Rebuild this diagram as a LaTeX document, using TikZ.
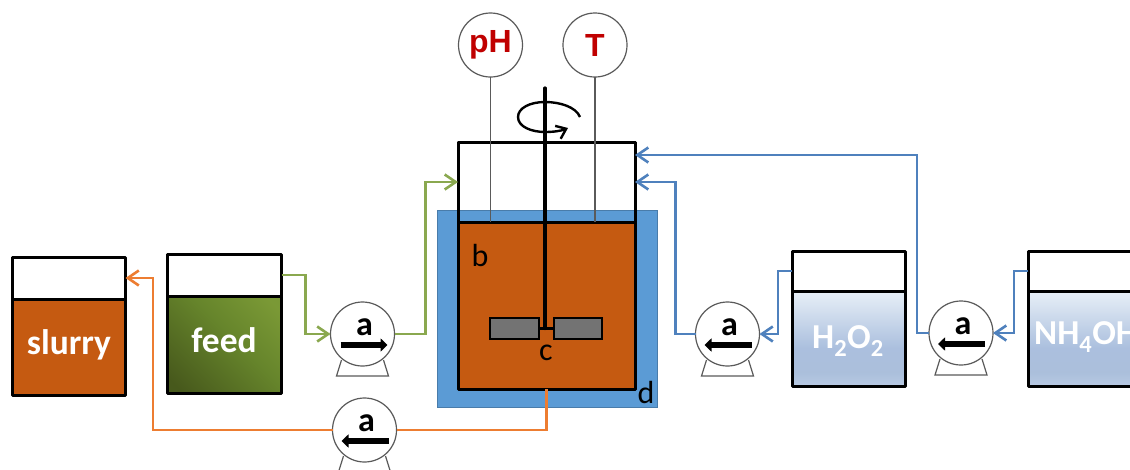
\documentclass[tikz,border=0pt]{standalone}
\usepackage{fontspec}
\setmainfont{Carlito}
\newfontfamily\arialfont{Liberation Sans}
\usetikzlibrary{arrows.meta,calc}
\definecolor{liquid}{HTML}{C55A11}
\definecolor{jacket}{HTML}{5B9BD5}
\definecolor{lineblue}{HTML}{4F81BD}
\definecolor{lineorange}{HTML}{ED7D31}
\definecolor{linegreen}{HTML}{8AA84F}
\definecolor{probered}{HTML}{C00000}
\definecolor{pumpgrey}{HTML}{5A5A5A}
\pgfdeclareverticalshading{bluetank}{100bp}{%
  rgb(0bp)=(0.72,0.79,0.89);
  rgb(25bp)=(0.72,0.79,0.89);
  rgb(32bp)=(0.67,0.75,0.86);
  rgb(45bp)=(0.67,0.75,0.87);
  rgb(75bp)=(0.91,0.94,0.97);
  rgb(100bp)=(0.91,0.94,0.97)}
\pgfdeclarehorizontalshading{feedshade}{100bp}{%
  rgb(0bp)=(0.28,0.35,0.11);
  rgb(20bp)=(0.28,0.35,0.11);
  rgb(55bp)=(0.40,0.52,0.17);
  rgb(80bp)=(0.48,0.60,0.21);
  rgb(100bp)=(0.48,0.60,0.21)}
\tikzset{
  tankbox/.style={draw=black,line width=3pt,inner sep=0pt,outer sep=0pt,minimum width=#1,line join=round},
  pumpcircle/.style={circle,draw=pumpgrey,fill=white,line width=1.2pt,minimum size=64pt,inner sep=0pt,outer sep=0pt},
  probecircle/.style={circle,draw=pumpgrey,fill=white,line width=1.2pt,minimum size=64pt,inner sep=0pt,outer sep=0pt,
    font=\arialfont\bfseries\fontsize{32}{32}\selectfont,text=probered},
  probeline/.style={draw=pumpgrey,line width=1.2pt},
  pumpstand/.style={draw=pumpgrey,line width=1.2pt,fill=white},
  pumplabel/.style={font=\bfseries\fontsize{34}{34}\selectfont,inner sep=0pt},
  pumparrow/.style={line width=5.5pt,-{Triangle[length=7pt,width=13pt]}},
  tanklabel/.style={font=\bfseries\fontsize{35.5}{36}\selectfont,text=white,inner sep=0pt},
  chemlabel/.style={font=\bfseries\fontsize{35}{35}\selectfont,text=white,inner sep=0pt},
  partlabel/.style={font=\fontsize{32}{32}\selectfont,inner sep=0pt},
  flow/.style={line width=2.6pt,-{Straight Barb[length=11pt,width=15pt,line width=2.6pt]}},
  flowplain/.style={line width=2.6pt},
  bladebox/.style={draw=black,line width=1.8pt,fill=gray!90!black,minimum height=21pt,inner sep=0pt,outer sep=0pt},
}
\newcommand{\pumpbase}[1]{\draw[pumpstand] ($(#1)+(-21,26)$) -- ($(#1)+(-26,42)$) -- ($(#1)+(26,42)$) -- ($(#1)+(21,26)$);}
\begin{document}
\begin{tikzpicture}[x=1pt,y=-1pt]
\useasboundingbox (0,0) rectangle (1130,469);
\clip (0,0) rectangle (1130,469);
\fill[white] (0,0) rectangle (1130,469);

% jacket and reactor
\node[draw=jacket!80!black,line width=0.6pt,fill=jacket,minimum width=220pt,minimum height=197pt,inner sep=0pt,outer sep=0pt] (jacketbox) at (547,308.5) {};
\node[tankbox=177pt,fill=none,minimum height=80pt] (reactortop) at (546.5,182) {};
\node[tankbox=177pt,fill=liquid,minimum height=167pt] (reactorliquid) at (546.5,305.5) {};
\fill[white] (reactortop.north west) rectangle (jacketbox.north -| reactortop.east);
\draw[black,line width=3pt,line join=round] (reactortop.south west) -- (reactortop.north west) -- (reactortop.north east) -- (reactortop.south east);
\draw[black,line width=3pt] (reactorliquid.north west) -- (reactorliquid.north east);

% tanks
\node[tankbox=113pt,fill=white,minimum height=42pt] (slurrytop) at (69,278) {};
\node[tankbox=113pt,fill=liquid,minimum height=96pt] (slurrybody) at (69,347) {};
\node[tankbox=114pt,fill=white,minimum height=42pt] (feedtop) at (224.5,275) {};
\node[tankbox=114pt,shading=feedshade,shading angle=45,minimum height=97pt] (feedbody) at (224.5,344.5) {};
\node[tankbox=113pt,fill=white,minimum height=40pt] (hydrotop) at (848.5,271) {};
\node[tankbox=113pt,shading=bluetank,minimum height=95pt] (hydrobody) at (848.5,338.5) {};
\node[tankbox=113pt,fill=white,minimum height=40pt] (ammtop) at (1084.5,271) {};
\node[tankbox=113pt,shading=bluetank,minimum height=95pt] (ammbody) at (1084.5,338.5) {};

\node[tanklabel] (slurrytext) at (69,345) {slurry};
\node[tanklabel] (feedtext) at (224,340) {feed};
\node[chemlabel] (hydrotext) at (848,341) {H\textsubscript{2}O\textsubscript{2}};
\node[chemlabel,anchor=west] (ammtext) at (1034,337) {NH\textsubscript{4}OH};

% probes
\node[probecircle] (ph) at (490.5,45) {pH};
\node[probecircle] (temp) at (595,45) {T};
\coordinate (phend) at (reactorliquid.north west -| ph.south);
\coordinate (tempend) at (reactorliquid.north west -| temp.south);
\draw[probeline] (ph.south) -- (phend);
\draw[probeline] (temp.south) -- (tempend);

% impeller
\node[bladebox,minimum width=49pt] (bladeleft) at (514.5,328.5) {};
\node[bladebox,minimum width=48pt] (bladeright) at (578,328.5) {};
\coordinate (shafttop) at (545,88);
\coordinate (shaftbottom) at (bladeleft.east -| shafttop);
\draw[black,line width=3.2pt,line cap=round] (shafttop) -- (shaftbottom);
\draw[black,line width=3.2pt] (bladeleft.east) -- (bladeright.west);
\draw[black,line width=2.4pt,-{Straight Barb[length=9pt,width=14pt,line width=2.4pt]}]
  (580,117) .. controls (576,107) and (560,102) .. (545,102)
  .. controls (530,102) and (518,108) .. (518,117)
  .. controls (518,127) and (532,132) .. (545,132)
  .. controls (553,132) and (561,131) .. (568,128);

\node[partlabel] (labelb) at (480,255) {b};
\node[partlabel] (labelc) at (546,353) {c};
\node[partlabel] (labeld) at (646,392) {d};

% pumps
\coordinate (pc1) at (362.5,334);
\coordinate (pc2) at (364.5,430);
\coordinate (pc3) at (727.5,334);
\coordinate (pc4) at (961,333);
\pumpbase{pc1}\pumpbase{pc2}\pumpbase{pc3}\pumpbase{pc4}
\node[pumpcircle] (pump1) at (pc1) {};
\node[pumpcircle] (pump2) at (pc2) {};
\node[pumpcircle] (pump3) at (pc3) {};
\node[pumpcircle] (pump4) at (pc4) {};
\node[pumplabel] (a1) at ($(pc1)+(2,-7)$) {a};
\node[pumplabel] (a2) at ($(pc2)+(2,-7)$) {a};
\node[pumplabel] (a3) at ($(pc3)+(2,-7)$) {a};
\node[pumplabel] (a4) at ($(pc4)+(2,-7)$) {a};
\draw[pumparrow] ($(pc1)+(-22,11)$) -- ($(pc1)+(25,11)$);
\draw[pumparrow] ($(pc2)+(24,11)$) -- ($(pc2)+(-23,11)$);
\draw[pumparrow] ($(pc3)+(24,11)$) -- ($(pc3)+(-23,11)$);
\draw[pumparrow] ($(pc4)+(24,11)$) -- ($(pc4)+(-23,11)$);

% connectors
\draw[flow,draw=linegreen] (feedtop.east) -- ++(24,0) |- (pump1.west);
\draw[flow,draw=linegreen] (pump1.east) -- ++(31,0) |- (reactortop.west);
\draw[flowplain,draw=lineorange] (reactorliquid.south) |- (pump2.east);
\draw[flow,draw=lineorange] (pump2.west) -- (153,430) |- (slurrytop.east);
\draw[flow,draw=lineblue] (hydrotop.west) -- ++(-14,0) |- (pump3.east);
\draw[flow,draw=lineblue] (pump3.west) -- ++(-20,0) |- (reactortop.east);
\draw[flow,draw=lineblue] (ammtop.west) -- ++(-14,0) |- (pump4.east);
\coordinate (reactorinlet) at ($(reactortop.east)+(0,-27)$);
\draw[flow,draw=lineblue] (pump4.west) -- ++(-12,0) |- (reactorinlet);
\end{tikzpicture}
\end{document}
